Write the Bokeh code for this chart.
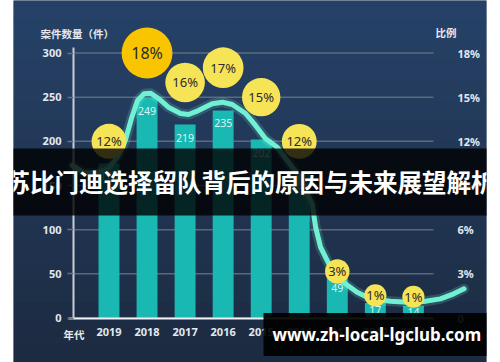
from bokeh.plotting import figure
from bokeh.models import (Range1d, LinearAxis, FixedTicker, Label, BoxAnnotation,
                          ColumnDataSource)
from bokeh.embed import file_html
from bokeh.resources import INLINE

# ---------------- data ----------------
years = ["2019", "2018", "2017", "2016", "2015", "2014", "2013", "2012", "2011"]
cases = [175, 249, 219, 235, 202, 165, 49, 17, 14]
ratio = [12, 18, 16, 17, 15, 12, 3, 1, 1]
# smooth trend line (x in category index, y in %)
trend_x = [-0.96, -0.67, -0.36, -0.01, 0.25, 0.43, 0.59, 0.75, 0.92, 1.09, 1.30,
           1.56, 1.88, 2.09, 2.35, 2.71, 2.98, 3.24, 3.59, 3.85, 4.11, 4.42, 4.95,
           5.34, 5.43, 5.56, 5.82, 6.16, 6.52, 6.87, 7.40, 7.84, 8.27, 8.71, 9.06, 9.33]
trend_pct = [10.36, 9.88, 9.85, 10.15, 11.04, 12.06, 13.55, 14.78, 15.23, 15.27, 14.91,
             14.32, 13.89, 13.82, 14.09, 14.55, 14.66, 14.50, 13.89, 13.08, 12.19, 11.60, 9.79,
             7.76, 6.17, 4.81, 3.45, 2.43, 1.75, 1.30, 1.14, 1.07, 1.12, 1.30, 1.64, 1.98]
left_ticks = [0, 50, 100, 150, 200, 250, 300]
right_ticks = [0, 3, 6, 9, 12, 15, 18]
left_title = "案件数量（件）"
right_title = "比例"
x_title = "年代"
title = "苏比门迪选择留队背后的原因与未来展望解析"
watermark = "www.zh-local-lgclub.com"

# ---------------- layout ----------------
W, H = 500, 362
BL, BR = 13, 14
FRAME_W = W - BL - BR
FRAME_H = H
STEP = 38.05            # px per category
UNIT = 265.0 / 300.0    # px per case
X0 = -(108.5 - BL) / STEP
Y0 = -(FRAME_H - 317.5) / UNIT
X1 = X0 + FRAME_W / STEP
Y1 = Y0 + FRAME_H / UNIT
PSCALE = 18.0 / 300.0


def ix(ref_x):
    return X0 + (ref_x - BL) / STEP


def iy(ref_y):
    return Y0 + (FRAME_H - ref_y) / UNIT


BG_TOP = (38, 66, 104)
BG_BOT = (28, 42, 64)
GRID = "#667185"
TXT = "#e4e8ee"
NUMFONT = "Noto Sans"
CJK = "Noto Sans CJK SC"

p = figure(width=W, height=H, output_backend="svg", toolbar_location=None,
           x_range=Range1d(X0, X1), y_range=Range1d(Y0, Y1),
           x_axis_location=None, y_axis_location=None,
           min_border_left=BL, min_border_right=BR, min_border_top=0, min_border_bottom=0)
p.extra_y_ranges = {"pct": Range1d(Y0 * PSCALE, Y1 * PSCALE)}
p.background_fill_color = "#213654"
p.border_fill_color = "white"
p.outline_line_color = None
p.xgrid.visible = False
p.ygrid.visible = False

# vertical background gradient (decorative bands)
NB = 18
for k in range(NB):
    t = (k + 0.5) / NB
    col = "#%02x%02x%02x" % tuple(int(round(a * (1 - t) + b * t)) for a, b in zip(BG_TOP, BG_BOT))
    p.add_layout(BoxAnnotation(top=iy(H * k / NB), bottom=iy(H * (k + 1) / NB) - 0.5,
                               fill_color=col, fill_alpha=1, line_color=None,
                               level="underlay"))

idx = list(range(len(years)))

# grid lines
p.segment(x0=[ix(73)] * len(left_ticks), x1=[ix(433)] * len(left_ticks),
          y0=left_ticks, y1=left_ticks, line_color=GRID, line_width=1.5, line_alpha=0.85)

# bars
lab_off = 13 / UNIT
lab_y = [v - min(lab_off, v / 2) for v in cases]
bsrc = ColumnDataSource(dict(x=idx, top=cases, ly=lab_y, lab=[str(v) for v in cases]))
p.vbar(x="x", top="top", bottom=0, width=0.55, source=bsrc,
       fill_color="#19b8b3", line_color=None)
p.text(x="x", y="ly", text="lab", source=bsrc,
       text_align="center", text_baseline="middle", text_font_size="10.5px",
       text_font={"value": NUMFONT}, text_color="#def5f2")

# trend line with glow
p.line(trend_x, trend_pct, y_range_name="pct", line_color="#7af7da", line_width=10,
       line_alpha=0.18, line_cap="round", line_join="round")
p.line(trend_x, trend_pct, y_range_name="pct", line_color="#72f0d4", line_width=5,
       line_cap="round", line_join="round")

# bubbles (kept above the bar's value label)
rmax = max(ratio)
radii = [10.5 + 0.58 * r + (4.5 if r == rmax else 0) for r in ratio]
bub_y = [max(r / PSCALE, ly + (rad + 4) / UNIT) for r, ly, rad in zip(ratio, lab_y, radii)]
colors = ["#f8c500" if r == rmax else "#f6e457" for r in ratio]
fsizes = ["16px" if r == rmax else "13px" for r in ratio]
csrc = ColumnDataSource(dict(x=idx, y=bub_y, s=[2 * r for r in radii], c=colors, f=fsizes,
                             lab=[f"{r}%" for r in ratio]))
p.scatter(x="x", y="y", size="s", fill_color="c", line_color=None, source=csrc)
p.text(x="x", y="y", text="lab", text_font_size="f", source=csrc,
       text_align="center", text_baseline="middle", text_color="#2b2b2b",
       text_font={"value": NUMFONT})

# axes
xaxis = LinearAxis(ticker=FixedTicker(ticks=idx),
                   major_label_overrides={i: y for i, y in enumerate(years)},
                   fixed_location=0, bounds=(ix(68), ix(433)))
xaxis.axis_line_color = "#eef0f3"
xaxis.axis_line_width = 2
xaxis.major_tick_line_color = None
xaxis.minor_tick_line_color = None
xaxis.major_tick_out = 0
xaxis.major_tick_in = 0
xaxis.major_label_standoff = 10
xaxis.major_label_text_font = NUMFONT
xaxis.major_label_text_font_style = "bold"
xaxis.major_label_text_font_size = "11px"
xaxis.major_label_text_color = TXT
p.add_layout(xaxis, "below")

yaxis = LinearAxis(ticker=FixedTicker(ticks=left_ticks), fixed_location=ix(73),
                   bounds=(0, iy(47)))
yaxis.axis_line_color = "#c9ced6"
yaxis.axis_line_width = 2
yaxis.major_tick_line_color = GRID
yaxis.major_tick_line_width = 1.5
yaxis.major_tick_out = 6
yaxis.major_tick_in = 0
yaxis.minor_tick_line_color = None
yaxis.major_label_standoff = 6
yaxis.major_label_text_font = NUMFONT
yaxis.major_label_text_font_style = "bold"
yaxis.major_label_text_font_size = "11px"
yaxis.major_label_text_color = TXT
p.add_layout(yaxis, "left")

raxis = LinearAxis(y_range_name="pct", ticker=FixedTicker(ticks=right_ticks),
                   major_label_overrides={t: ("0" if t == 0 else f"{t}%") for t in right_ticks},
                   fixed_location=ix(433))
raxis.axis_line_color = None
raxis.major_tick_line_color = None
raxis.minor_tick_line_color = None
raxis.major_tick_out = 0
raxis.major_tick_in = 0
raxis.major_label_standoff = 24
raxis.major_label_text_align = "right"
raxis.major_label_text_font = NUMFONT
raxis.major_label_text_font_style = "bold"
raxis.major_label_text_font_size = "11px"
raxis.major_label_text_color = TXT
p.add_layout(raxis, "right")

# axis titles
for txt, x, y, al in [(left_title, ix(40), iy(33), "left"),
                      (right_title, ix(435), iy(32), "left"),
                      (x_title, ix(73.5), iy(334), "center")]:
    p.add_layout(Label(x=x, y=y, text=txt, text_align=al, text_baseline="middle",
                       text_font=CJK, text_font_style="bold", text_font_size="10.5px",
                       text_color=TXT))

# banner across the whole picture
p.add_layout(BoxAnnotation(left=0, right=W, left_units="canvas", right_units="canvas",
                           bottom=iy(215), top=iy(148), fill_color="black",
                           fill_alpha=0.8, line_color=None))
p.add_layout(Label(x=ix(250), y=iy(181), text=title, text_align="center",
                   text_baseline="middle", text_font=CJK, text_font_style="bold",
                   text_font_size="24.5px", text_color="white"))

# watermark
p.add_layout(Label(x=ix(263), y=iy(334), text=watermark, text_align="left",
                   text_baseline="middle", text_font=NUMFONT, text_font_style="bold",
                   text_font_size="16.9px", text_color="white",
                   background_fill_color="black", background_fill_alpha=0.92,
                   padding=(9, 10)))

open("out.html", "w").write(file_html(p, INLINE))
